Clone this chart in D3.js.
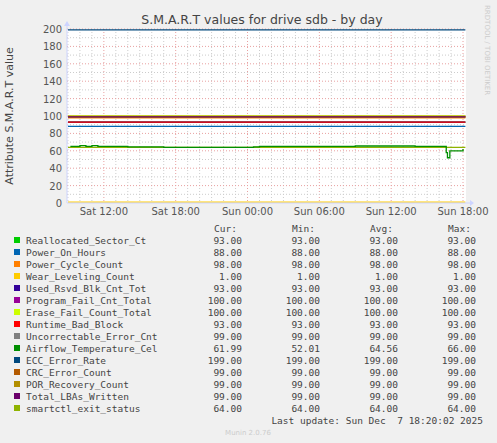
<!DOCTYPE html>
<html><head><meta charset="utf-8">
<script src="https://cdn.jsdelivr.net/npm/d3@7"></script>
<style>body{margin:0;background:#f0f0f0}text{font-family:"DejaVu Sans",sans-serif}text.mono{font-family:"DejaVu Sans Mono",monospace;white-space:pre}</style>
</head><body>
<svg id="c" width="497" height="443"></svg>
<script>
var names = ['Reallocated_Sector_Ct','Power_On_Hours','Power_Cycle_Count','Wear_Leveling_Count','Used_Rsvd_Blk_Cnt_Tot','Program_Fail_Cnt_Total','Erase_Fail_Count_Total','Runtime_Bad_Block','Uncorrectable_Error_Cnt','Airflow_Temperature_Cel','ECC_Error_Rate','CRC_Error_Count','POR_Recovery_Count','Total_LBAs_Written','smartctl_exit_status'];
var colors = ['#00cc00','#0066b3','#ff8000','#ffcc00','#330099','#990099','#ccff00','#ff0000','#808080','#008f00','#00487d','#b35a00','#b38f00','#6b006b','#8fb300'];
var cur = ['93.00','88.00','98.00','1.00','93.00','100.00','100.00','93.00','99.00','61.99','199.00','99.00','99.00','99.00','64.00'];
var mins = ['93.00','88.00','98.00','1.00','93.00','100.00','100.00','93.00','99.00','52.01','199.00','99.00','99.00','99.00','64.00'];
var avgs = ['93.00','88.00','98.00','1.00','93.00','100.00','100.00','93.00','99.00','64.56','199.00','99.00','99.00','99.00','64.00'];
var maxs = ['93.00','88.00','98.00','1.00','93.00','100.00','100.00','93.00','99.00','66.00','199.00','99.00','99.00','99.00','64.00'];
var constVals = [93,88,98,1,93,100,100,93,99,null,199,99,99,99,64];
// airflow temperature: hours after Sat 09:00, value
var tempHours = [0.2,1,1.5,2,2.5,3,4,5,6,8,10,12,14,15.5,16,18,20,22,24,26,28,29,30,31,31.5,31.6,31.7,31.9,32,33];
var tempVals  = [65,66,65,66,65,65,65,64.5,64.5,64,64,64,64,64.5,65,65,65,65,65.5,65.5,65.5,65,65,65,65,58,52,60,60,62];
var xTicks = ['Sat 12:00','Sat 18:00','Sun 00:00','Sun 06:00','Sun 12:00','Sun 18:00'];

var svg = d3.select('#c');
var t0 = new Date(2025,11,6,9,0);
var hr = function(h){ return new Date(t0.getTime()+h*3600e3); };
var x = d3.scaleTime().domain([hr(-0.08), hr(33.25)]).range([67,466]);
var y = d3.scaleLinear().domain([0,200]).range([203,29]);

svg.append('rect').attr('x',67).attr('y',29).attr('width',399).attr('height',174).attr('fill','#fff');
var g = svg.append('g');
d3.range(0,34).forEach(function(h){
  var major = (h+9)%6==0;
  g.append('line').attr('x1',x(hr(h))).attr('x2',x(hr(h))).attr('y1',29).attr('y2',203)
    .attr('stroke',major?'#e8a0a0':'#ccc').attr('stroke-dasharray','1,2');
});
d3.range(10,201,10).forEach(function(v){
  g.append('line').attr('x1',67).attr('x2',466).attr('y1',y(v)).attr('y2',y(v))
    .attr('stroke',v%20==0?'#e8a0a0':'#ccc').attr('stroke-dasharray','1,2');
});
d3.range(0,201,20).forEach(function(v){
  svg.append('text').attr('x',62).attr('y',y(v)+4).attr('text-anchor','end').attr('font-size',10).attr('fill','#555').text(v);
});
xTicks.forEach(function(s,i){
  svg.append('text').attr('x',x(hr(3+6*i))).attr('y',215).attr('text-anchor','middle').attr('font-size',10).attr('fill','#555').text(s);
});
// series
var line = d3.line().x(function(d){return x(hr(d[0]));}).y(function(d){return y(d[1]);});
constVals.forEach(function(v,i){
  if(v===null) return;
  svg.append('path').attr('d',line([[0,v],[33.2,v]])).attr('stroke',colors[i]).attr('stroke-width',1.3).attr('fill','none');
});
var stepLine = d3.line().curve(d3.curveStepAfter).x(function(d){return x(hr(d[0]));}).y(function(d){return y(d[1]);});
svg.append('path').attr('d',stepLine(d3.zip(tempHours,tempVals))).attr('stroke',colors[9]).attr('stroke-width',1.3).attr('fill','none');
// axes
svg.append('line').attr('x1',67).attr('x2',470).attr('y1',203).attr('y2',203).attr('stroke','#cdd4ff');
svg.append('line').attr('x1',67).attr('x2',67).attr('y1',25).attr('y2',203).attr('stroke','#cdd4ff');
svg.append('path').attr('d','M470,200L474,203L470,206Z').attr('fill','#cdd4ff');
svg.append('path').attr('d','M64,26L67,21L70,26Z').attr('fill','#cdd4ff');

svg.append('text').attr('x',262).attr('y',24).attr('text-anchor','middle').attr('font-size',12.5).attr('fill','#444').text('S.M.A.R.T values for drive sdb - by day');
svg.append('text').attr('transform','translate(13,116) rotate(-90)').attr('text-anchor','middle').attr('font-size',11).attr('fill','#444').text('Attribute S.M.A.R.T value');
svg.append('text').attr('transform','translate(485,5) rotate(90)').attr('font-size',7).attr('fill','#ccc').text('RRDTOOL / TOBI OETIKER');

var cols = [242,320,398,476];
['Cur:','Min:','Avg:','Max:'].forEach(function(h,j){
  svg.append('text').attr('class','mono').attr('x',cols[j]-5).attr('y',232).attr('text-anchor','end').attr('font-size',9.5).attr('fill','#444').text(h);
});
var rows = svg.selectAll('g.row').data(names).enter().append('g').attr('class','row')
  .attr('transform',function(d,i){return 'translate(0,'+(244+i*12)+')';});
rows.append('rect').attr('x',14).attr('y',-7).attr('width',6).attr('height',6).attr('fill',function(d,i){return colors[i];});
rows.append('text').attr('class','mono').attr('x',26).attr('font-size',9.5).attr('fill','#444').text(function(d){return d;});
[cur,mins,avgs,maxs].forEach(function(arr,j){
  rows.append('text').attr('class','mono').attr('x',cols[j]).attr('text-anchor','end').attr('font-size',9.5).attr('fill','#444').text(function(d,i){return arr[i];});
});
svg.append('text').attr('class','mono').attr('x',483).attr('y',424).attr('text-anchor','end').attr('font-size',9.5).attr('fill','#444').text('Last update: Sun Dec  7 18:20:02 2025');
svg.append('text').attr('x',248).attr('y',435).attr('text-anchor','middle').attr('font-size',7).attr('fill','#ccc').text('Munin 2.0.76');
</script>
</body></html>
